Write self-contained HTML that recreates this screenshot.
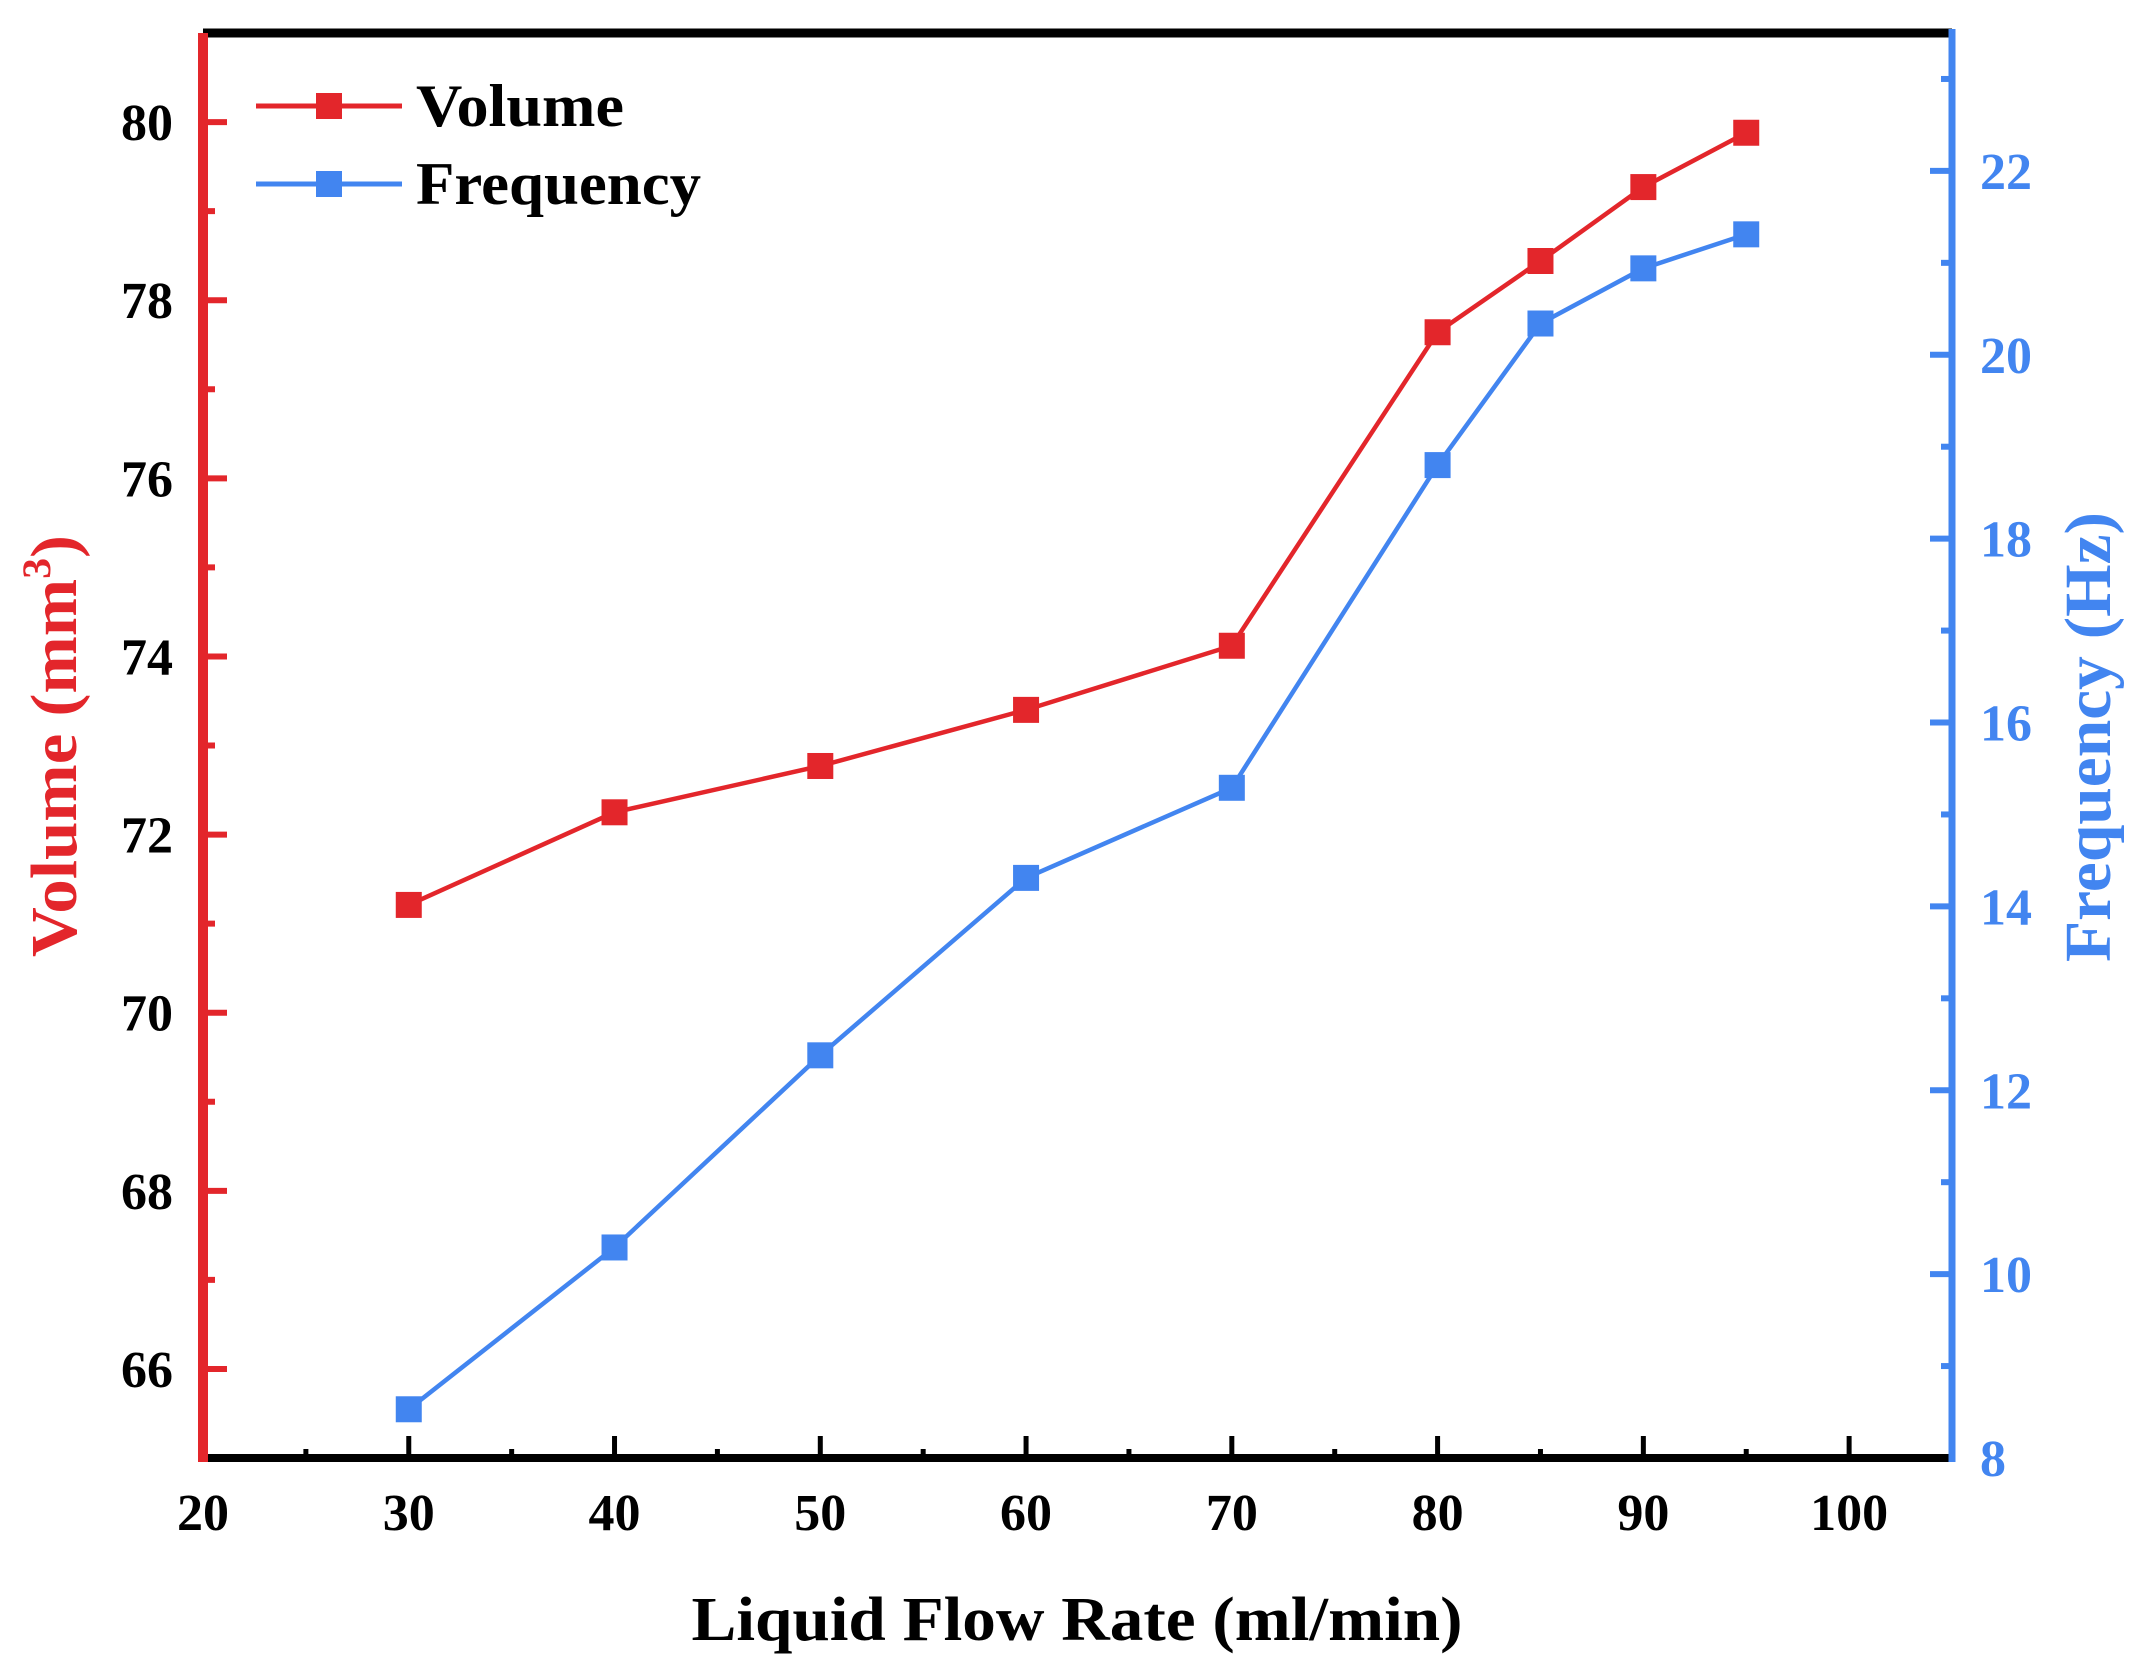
<!DOCTYPE html>
<html><head><meta charset="utf-8"><style>
html,body{margin:0;padding:0;background:#fff;}
svg{display:block;font-family:"Liberation Serif",serif;font-weight:bold;}
</style></head><body>
<svg id="chart" width="2140" height="1671" viewBox="0 0 2140 1671" xmlns="http://www.w3.org/2000/svg">
<g id="grid-layer"></g>
<g id="series-layer"></g>
<g id="legend">
  <line x1="256" y1="106" x2="402" y2="106" stroke="#e3262b" stroke-width="5"/>
  <rect x="316" y="93" width="26" height="26" fill="#e3262b"/>
  <text x="416" y="126" font-size="60" textLength="208" lengthAdjust="spacingAndGlyphs">Volume</text>
  <line x1="256" y1="184" x2="402" y2="184" stroke="#4285f0" stroke-width="5"/>
  <rect x="316" y="171" width="26" height="26" fill="#4285f0"/>
  <text x="416" y="204" font-size="60" textLength="285" lengthAdjust="spacingAndGlyphs">Frequency</text>
</g>
<text x="1077" y="1640" font-size="62" text-anchor="middle" textLength="771" lengthAdjust="spacingAndGlyphs">Liquid Flow Rate (ml/min)</text>
<text transform="translate(76,746) rotate(-90)" font-size="66" fill="#e3262b" text-anchor="middle" textLength="422" lengthAdjust="spacingAndGlyphs">Volume (mm<tspan font-size="40" dy="-26">3</tspan><tspan dy="26">)</tspan></text>
<text transform="translate(2110,737) rotate(-90)" font-size="66" fill="#4285f0" text-anchor="middle" textLength="450" lengthAdjust="spacingAndGlyphs">Frequency (Hz)</text>
</svg>
<script>
const xValues = [30, 40, 50, 60, 70, 80, 85, 90, 95];
const volumeValues = [71.21, 72.25, 72.77, 73.40, 74.12, 77.64, 78.44, 79.27, 79.88];
const frequencyValues = [8.53, 10.29, 12.38, 14.31, 15.29, 18.80, 20.34, 20.94, 21.31];
const xTickLabels = [20, 30, 40, 50, 60, 70, 80, 90, 100];
const leftTickLabels = [66, 68, 70, 72, 74, 76, 78, 80];
const rightTickLabels = [8, 10, 12, 14, 16, 18, 20, 22];

const NS = "http://www.w3.org/2000/svg";
const L = 203, R = 1952, T = 33, B = 1458;
const xMin = 20, xMax = 105, lMin = 65, lMax = 81, rMin = 8, rMax = 23.5;
const RED = "#e3262b", BLUE = "#4285f0";
function xS(v){ return L + (v - xMin) / (xMax - xMin) * (R - L); }
function lS(v){ return B - (v - lMin) / (lMax - lMin) * (B - T); }
function rS(v){ return B - (v - rMin) / (rMax - rMin) * (B - T); }
function mk(tag, attrs, parent){
  const e = document.createElementNS(NS, tag);
  for (const k in attrs) e.setAttribute(k, attrs[k]);
  parent.appendChild(e);
  return e;
}
const axes = document.getElementById("grid-layer");
const series = document.getElementById("series-layer");

// x ticks
for (let v = 25; v <= 100; v += 5) {
  const major = v % 10 === 0;
  const t = mk("line", {x1: xS(v), x2: xS(v), y1: B, y2: B - (major ? 22 : 9), stroke: "#000", "stroke-width": 5}, axes);
  
  
}
xTickLabels.forEach(v => {
  const t = mk("text", {x: xS(v), y: 1530, "font-size": 52, "text-anchor": "middle"}, axes);
  t.textContent = v;
  
  
});
// left ticks
for (let v = 66; v <= 80; v += 1) {
  const major = v % 2 === 0;
  const t = mk("line", {x1: L, x2: L + (major ? 24 : 12), y1: lS(v), y2: lS(v), stroke: RED, "stroke-width": 6}, axes);
  
  
}
leftTickLabels.forEach(v => {
  const t = mk("text", {x: 173, y: lS(v) + 18, "font-size": 52, "text-anchor": "end"}, axes);
  t.textContent = v;
  
  
});
// right ticks
for (let v = 9; v <= 23; v += 1) {
  const major = v % 2 === 0;
  const t = mk("line", {x1: R, x2: R - (major ? 22 : 11), y1: rS(v), y2: rS(v), stroke: BLUE, "stroke-width": 6}, axes);
  
  
}
rightTickLabels.forEach(v => {
  const t = mk("text", {x: 1980, y: rS(v) + 18, "font-size": 52, "text-anchor": "start", fill: BLUE}, axes);
  t.textContent = v;
  
  
});
// axis lines
let a;
a = mk("line", {x1: L, x2: R, y1: T, y2: T, stroke: "#000", "stroke-width": 9}, axes);


a = mk("line", {x1: L, x2: R, y1: B, y2: B, stroke: "#000", "stroke-width": 8}, axes);


a = mk("line", {x1: L, x2: L, y1: T, y2: B + 4, stroke: RED, "stroke-width": 10}, axes);


a = mk("line", {x1: R, x2: R, y1: T - 4, y2: B + 4, stroke: BLUE, "stroke-width": 7}, axes);



function drawSeries(vals, scale, color, name){
  const pts = xValues.map((x, i) => xS(x) + "," + scale(vals[i])).join(" ");
  const pl = mk("polyline", {points: pts, fill: "none", stroke: color, "stroke-width": 4.5}, series);
  
  
  xValues.forEach((x, i) => {
    const r = mk("rect", {x: xS(x) - 13, y: scale(vals[i]) - 13, width: 26, height: 26, fill: color}, series);
    
    
  });
}
drawSeries(volumeValues, lS, RED, 'volume');
drawSeries(frequencyValues, rS, BLUE, 'frequency');
</script>
</body></html>
